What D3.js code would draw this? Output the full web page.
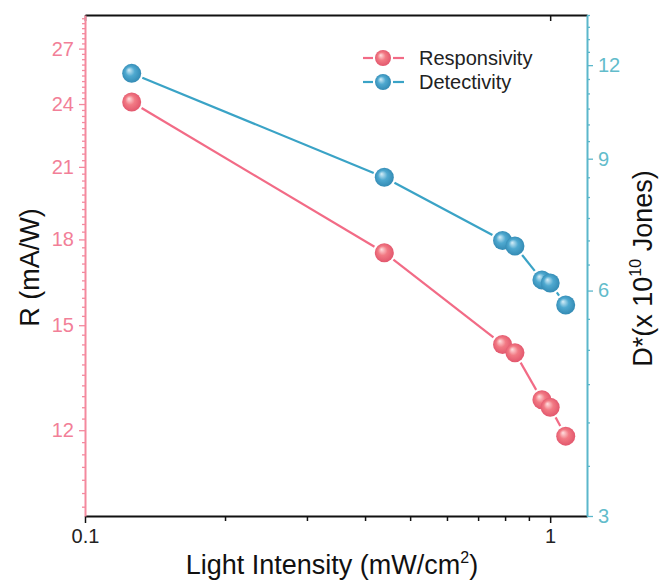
<!DOCTYPE html>
<html><head><meta charset="utf-8">
<script src="https://cdn.jsdelivr.net/npm/d3@7"></script>
<style>body{margin:0;background:#fff}svg{display:block}</style>
</head><body><svg id="c" width="669" height="583"></svg>
<script>
const intensity = [0.126, 0.44, 0.79, 0.84, 0.96, 1.0, 1.08];
const responsivity = [24.1, 17.5, 14.4, 14.15, 12.8, 12.6, 11.85];
const detectivity = [11.7, 8.5, 7.0, 6.88, 6.2, 6.14, 5.74];
const xTickValues = [0.1, 1];
const xTickLabels = ["0.1", "1"];
const xMinorTicks = [0.2, 0.3, 0.4, 0.5, 0.6, 0.7, 0.8, 0.9];
const leftTicks = [12, 15, 18, 21, 24, 27];
const rightTicks = [3, 6, 9, 12];
const seriesNames = ["Responsivity", "Detectivity"];

const svg = d3.select("#c");
const L = 85, R = 587, T = 15, B = 516;
const FONT = "'Liberation Sans', Arial, sans-serif";
const pinkAxis = "#f4899e", pinkText = "#f27f98", redLine = "#f26b86";
const tealAxis = "#5bb7cb", tealText = "#62bccb", blueLine = "#3aa3c6";

const x = d3.scaleLog().domain([0.1, 1.2]).range([L, R]);
const yL = d3.scaleLog().domain([10, 29]).range([B, T]);
const yR = d3.scaleLog().domain([3, 14]).range([B, T]);

// gradients
const defs = svg.append("defs");
function grad(id, hi, mid, edge) {
  const g = defs.append("radialGradient").attr("id", id)
    .attr("cx", "50%").attr("cy", "50%").attr("r", "55%")
    .attr("fx", "35%").attr("fy", "32%");
  g.append("stop").attr("offset", "0%").attr("stop-color", hi);
  g.append("stop").attr("offset", "45%").attr("stop-color", mid);
  g.append("stop").attr("offset", "100%").attr("stop-color", edge);
}
grad("gRed", "#ffe0e0", "#f27a84", "#e0526a");
grad("gBlue", "#d6eef8", "#4fa9d0", "#2f86b0");

// minor tick arrays
const leftMinor = d3.range(10.2, 29.01, 0.3).filter(v => !leftTicks.some(t => Math.abs(t - v) < 1e-6));
const rightMinor = d3.range(3.5, 14.01, 0.5).filter(v => !rightTicks.includes(v));

// bottom axis
const gx = svg.append("g").attr("transform", `translate(0,${B})`);
gx.call(d3.axisBottom(x).tickValues(xTickValues).tickFormat((d, i) => xTickLabels[i]).tickSizeInner(7).tickSizeOuter(0).tickPadding(6));
const gxm = svg.append("g").attr("transform", `translate(0,${B})`);
gxm.call(d3.axisBottom(x).tickValues(xMinorTicks).tickFormat("").tickSizeInner(5).tickSizeOuter(0));
gxm.select(".domain").remove();
[gx, gxm].forEach(g => {
  g.selectAll("line").attr("stroke", "#111").attr("stroke-width", 1.5);
  g.select(".domain").attr("stroke", "#111").attr("stroke-width", 2);
});
gx.selectAll("text").attr("font-family", FONT).attr("font-size", 20).attr("fill", "#222");

// top axis (inward major ticks)
const gt = svg.append("g").attr("transform", `translate(0,${T})`);
gt.call(d3.axisBottom(x).tickValues(xTickValues).tickFormat("").tickSizeInner(6).tickSizeOuter(0));
gt.select(".domain").attr("stroke", "#111").attr("stroke-width", 2);
gt.selectAll("line").attr("stroke", "#111").attr("stroke-width", 1.5);

// left axis
const gl = svg.append("g").attr("transform", `translate(${L},0)`);
gl.call(d3.axisLeft(yL).tickValues(leftTicks).tickFormat(d3.format("d")).tickSizeInner(6).tickSizeOuter(0).tickPadding(5));
const glm = svg.append("g").attr("transform", `translate(${L},0)`);
glm.call(d3.axisLeft(yL).tickValues(leftMinor).tickFormat("").tickSizeInner(3).tickSizeOuter(0));
glm.select(".domain").remove();
[gl, glm].forEach(g => {
  g.selectAll("line").attr("stroke", pinkAxis).attr("stroke-width", 1.3);
  g.select(".domain").attr("stroke", pinkAxis).attr("stroke-width", 2);
});
gl.selectAll("text").attr("font-family", FONT).attr("font-size", 20).attr("fill", pinkText);

// right axis
const gr = svg.append("g").attr("transform", `translate(${R},0)`);
gr.call(d3.axisRight(yR).tickValues(rightTicks).tickFormat(d3.format("d")).tickSizeInner(6).tickSizeOuter(0).tickPadding(5));
const grm = svg.append("g").attr("transform", `translate(${R},0)`);
grm.call(d3.axisRight(yR).tickValues(rightMinor).tickFormat("").tickSizeInner(3).tickSizeOuter(0));
grm.select(".domain").remove();
[gr, grm].forEach(g => {
  g.selectAll("line").attr("stroke", tealAxis).attr("stroke-width", 1.3);
  g.select(".domain").attr("stroke", tealAxis).attr("stroke-width", 2);
});
gr.selectAll("text").attr("font-family", FONT).attr("font-size", 20).attr("fill", tealText);

// series
const rad = 9.5;
function drawSeries(yScale, vals, color, gradId) {
  const pts = intensity.map((d, i) => [x(d), yScale(vals[i])]);
  const gap = rad + 2;
  const g = svg.append("g");
  for (let i = 0; i < pts.length - 1; i++) {
    const [x1, y1] = pts[i], [x2, y2] = pts[i + 1];
    const dx = x2 - x1, dy = y2 - y1, len = Math.hypot(dx, dy);
    if (len <= 2 * gap) continue;
    const ux = dx / len, uy = dy / len;
    g.append("line")
      .attr("x1", x1 + ux * gap).attr("y1", y1 + uy * gap)
      .attr("x2", x2 - ux * gap).attr("y2", y2 - uy * gap)
      .attr("stroke", color).attr("stroke-width", 2.2);
  }
  g.selectAll("circle").data(pts).join("circle")
    .attr("cx", d => d[0]).attr("cy", d => d[1]).attr("r", rad)
    .attr("fill", `url(#${gradId})`);
}
drawSeries(yL, responsivity, redLine, "gRed");
drawSeries(yR, detectivity, blueLine, "gBlue");

// legend
const leg = svg.append("g");
const legRows = [
  { name: seriesNames[0], color: redLine, grad: "gRed", y: 58 },
  { name: seriesNames[1], color: blueLine, grad: "gBlue", y: 82 }
];
legRows.forEach(r => {
  leg.append("line").attr("x1", 363).attr("x2", 373).attr("y1", r.y).attr("y2", r.y).attr("stroke", r.color).attr("stroke-width", 2.2);
  leg.append("line").attr("x1", 393).attr("x2", 404).attr("y1", r.y).attr("y2", r.y).attr("stroke", r.color).attr("stroke-width", 2.2);
  leg.append("circle").attr("cx", 383).attr("cy", r.y).attr("r", 8).attr("fill", `url(#${r.grad})`);
  leg.append("text").attr("x", 419).attr("y", r.y + 7).attr("font-family", FONT).attr("font-size", 20).attr("fill", "#222").text(r.name);
});

// axis titles
svg.append("text").attr("transform", `translate(39,${(T + B) / 2 + 2}) rotate(-90)`)
  .attr("text-anchor", "middle").attr("font-family", FONT).attr("font-size", 27).attr("fill", "#111")
  .text("R (mA/W)");

const rt = svg.append("text").attr("transform", `translate(652,${(T + B) / 2 + 3}) rotate(-90)`)
  .attr("text-anchor", "middle").attr("font-family", FONT).attr("font-size", 27).attr("fill", "#111");
rt.append("tspan").text("D*(x 10");
rt.append("tspan").attr("font-size", 16).attr("dy", -11).text("10");
rt.append("tspan").attr("dy", 11).text(" Jones)");

const bt = svg.append("text").attr("x", 332).attr("y", 574)
  .attr("text-anchor", "middle").attr("font-family", FONT).attr("font-size", 27).attr("fill", "#111");
bt.append("tspan").text("Light Intensity (mW/cm");
bt.append("tspan").attr("font-size", 16).attr("dy", -11).text("2");
bt.append("tspan").attr("dy", 11).text(")");
</script>
</body></html>
